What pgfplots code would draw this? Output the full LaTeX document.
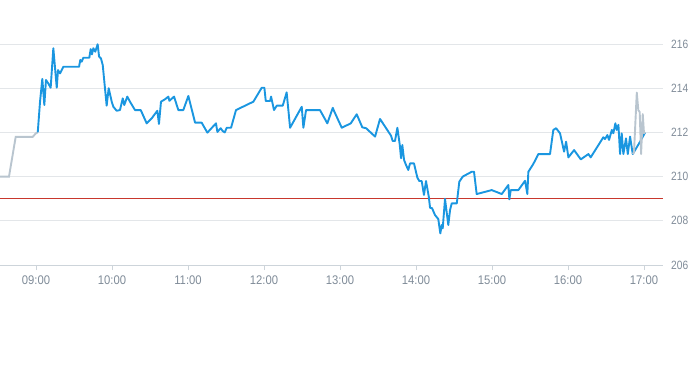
\documentclass[border=0pt]{standalone}
\usepackage{pgfplots}
\pgfplotsset{compat=1.18}
\usepackage{graphicx}
\usepackage{fontspec}
\setmainfont{Liberation Sans}
\definecolor{lineblue}{HTML}{1A96E0}
\definecolor{linegray}{HTML}{B9C5CF}
\definecolor{refred}{HTML}{C8372D}
\definecolor{gridc}{HTML}{E3E6E9}
\definecolor{axisc}{HTML}{CDD4DA}
\definecolor{labc}{HTML}{7F8B98}
\begin{document}
\begin{tikzpicture}
\path[use as bounding box] (0,0) rectangle (693pt,365pt);
\begin{axis}[
  at={(0pt,100pt)}, anchor=south west,
  scale only axis, width=663pt, height=221pt,
  xmin=511.6, xmax=1035, ymin=206, ymax=216,
  clip=false,
  /pgf/number format/assume math mode=true,
  axis x line*=bottom, axis y line*=right,
  y axis line style={draw=none},
  x axis line style={draw=axisc, line width=0.8pt},
  xtick={540,600,660,720,780,840,900,960,1020},
  xticklabels={\scalebox{0.9}[1]{09:00},\scalebox{0.9}[1]{10:00},\scalebox{0.9}[1]{11:00},\scalebox{0.9}[1]{12:00},\scalebox{0.9}[1]{13:00},\scalebox{0.9}[1]{14:00},\scalebox{0.9}[1]{15:00},\scalebox{0.9}[1]{16:00},\scalebox{0.9}[1]{17:00}},
  yticklabel={\scalebox{0.85}[1]{\pgfmathprintnumber{\tick}}},
  ytick={206,208,210,212,214,216},
  xticklabel style={font=\fontsize{12.5}{12.5}\selectfont, text=labc, yshift=-2pt},
  yticklabel style={font=\fontsize{12}{12}\selectfont, text=labc, anchor=west, xshift=1pt, inner xsep=2pt},
  xtick style={draw=axisc, line width=0.8pt},
  ytick style={draw=none},
  tick align=outside, major tick length=5pt,
  ymajorgrids, grid style={draw=gridc, line width=0.8pt},
]
\addplot[refred, line width=0.8pt] coordinates {(511.6,209) (1035,209)};
\addplot[linegray, line width=1.9pt] coordinates {
(511.6,210.0) (518.7,210.0) (524.0,211.8) (537.4,211.8) (540.0,211.96) (541.4,212.0)
};
\addplot[lineblue, line width=1.9pt, line join=round] coordinates {
(541.4,212.0) (543.2,213.39) (545.0,214.42) (546.6,213.24) (547.9,214.37) (549.7,214.22)
(551.6,214.02) (553.7,215.81) (556.4,214.02) (557.4,214.82) (559.0,214.67) (561.6,214.97)
(574.0,214.97) (575.0,215.28) (576.1,215.2) (577.4,215.38) (582.1,215.38) (583.2,215.77)
(584.2,215.53) (585.3,215.81) (586.8,215.65) (588.7,215.99) (589.8,215.43) (591.3,215.35)
(592.7,215.05) (595.8,213.21) (597.4,214.0) (599.8,213.39) (601.1,213.16) (603.7,212.98)
(606.3,213.01) (608.5,213.54) (609.7,213.24) (612.1,213.62) (614.2,213.39) (618.2,213.01)
(622.7,213.01) (627.4,212.41) (631.4,212.64) (635.8,212.98) (637.1,212.38) (638.7,213.39)
(641.9,213.5) (644.5,213.62) (645.3,213.43) (649.0,213.62) (652.4,213.01) (656.3,213.01)
(660.3,213.65) (665.6,212.44) (670.8,212.44) (675.3,211.99) (682.1,212.41) (683.2,212.02)
(685.8,212.19) (687.4,212.06) (689.0,212.0) (690.6,212.21) (694.0,212.21) (697.9,213.01)
(711.6,213.39) (718.2,214.02) (720.3,214.02) (721.4,213.42) (724.8,213.42) (725.6,213.62)
(727.9,213.01) (730.1,213.21) (734.8,213.21) (737.9,213.81) (740.6,212.21) (749.8,213.16)
(751.1,212.21) (753.2,213.01) (764.2,213.01) (770.0,212.41) (774.3,213.11) (775.3,212.97)
(781.4,212.21) (788.5,212.41) (793.2,212.82) (797.6,212.23) (800.6,212.19) (807.7,211.81)
(811.6,212.61) (820.3,211.85) (821.6,211.61) (823.4,211.61) (825.3,212.21) (827.2,211.43)
(828.2,210.83) (829.2,211.43) (830.6,210.75) (832.1,210.53) (833.9,210.3) (835.3,210.6)
(838.4,210.6) (841.1,209.95) (842.6,209.8) (844.5,209.8) (846.3,209.17) (847.9,209.8)
(850.1,209.09) (851.1,208.59) (852.7,208.57) (855.0,208.26) (857.6,208.08) (859.2,207.43)
(860.3,207.81) (861.1,207.66) (862.9,208.99) (865.5,207.81) (866.9,208.49) (868.2,208.79)
(872.2,208.79) (874.2,209.77) (876.9,210.0) (884.0,210.22) (885.8,210.22) (887.9,209.21)
(899.8,209.39) (907.7,209.21) (912.9,209.62) (913.7,208.97) (914.8,209.39) (920.8,209.39)
(926.1,209.81) (927.9,209.21) (928.7,210.22) (932.6,210.57) (936.6,211.02) (945.8,211.02)
(948.4,212.11) (950.6,212.19) (953.7,211.96) (956.9,211.13) (958.5,211.58) (960.3,210.87)
(964.8,211.2) (970.1,210.78) (976.1,211.02) (977.9,210.87) (987.9,211.78) (989.2,211.7)
(991.1,211.88) (992.4,211.66) (994.6,212.11) (995.8,211.96) (997.4,212.41) (998.5,212.11)
(999.8,212.34) (1001.1,211.02) (1002.4,211.96) (1003.7,211.02) (1005.8,211.73) (1007.2,211.02)
(1009.0,211.81) (1011.1,211.02) (1016.9,211.58) (1020.8,211.99)
};
\addplot[linegray, line width=1.9pt, line join=round] coordinates {
(1011.1,211.02) (1012.1,211.11) (1014.3,213.8) (1015.5,213.01) (1016.6,212.92) (1017.7,211.02)
(1019.0,212.83) (1020.0,211.96) (1020.8,212.02)
};
\end{axis}
\end{tikzpicture}
\end{document}
